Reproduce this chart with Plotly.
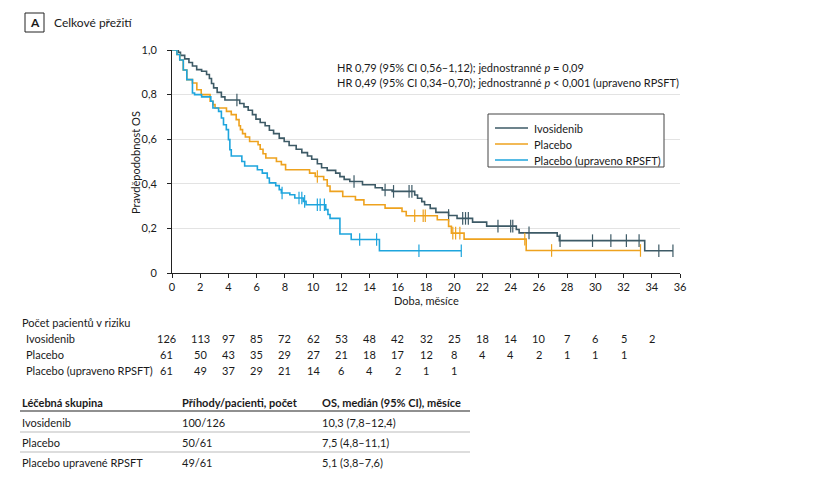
import plotly.graph_objects as go

# ---------------- data ----------------
ivo_t = [0, 0.45, 0.6, 0.9, 1.2, 1.45, 1.75, 2.1, 2.45, 2.65, 2.8, 2.95, 3.2, 3.5, 3.75,
         4.8, 5.1, 5.4, 5.7, 5.95, 6.25, 6.6, 6.9, 7.2, 7.6, 7.95, 8.3, 8.8, 9.2, 9.6,
         9.9, 10.3, 10.6, 11.0, 11.6, 11.9, 12.2, 12.6, 13.5, 14.4, 14.9, 15.6, 17.2,
         17.4, 17.7, 17.9, 18.3, 18.7, 19.6, 20.2, 21.3, 22.3, 24.4, 24.6, 27.3, 27.45,
         33.5, 35.5]
ivo_s = [1.0, 0.99, 0.976, 0.96, 0.944, 0.928, 0.912, 0.905, 0.89, 0.872, 0.85, 0.83, 0.81,
         0.79, 0.776, 0.76, 0.745, 0.73, 0.71, 0.69, 0.675, 0.66, 0.64, 0.625, 0.605, 0.59,
         0.572, 0.555, 0.54, 0.525, 0.51, 0.49, 0.472, 0.46, 0.448, 0.432, 0.42, 0.41, 0.396,
         0.382, 0.372, 0.366, 0.35, 0.335, 0.32, 0.306, 0.29, 0.272, 0.258, 0.245, 0.228,
         0.21, 0.195, 0.18, 0.165, 0.145, 0.10, 0.10]
ivo_cens_t = [4.6, 12.9, 15.1, 15.7, 16.8, 17.0, 19.6, 20.6, 20.8, 21.0, 23.1, 24.0, 24.15,
              25.3, 27.5, 29.8, 31.1, 32.2, 33.1, 34.5, 35.5]
ivo_cens_s = [0.776, 0.41, 0.372, 0.366, 0.366, 0.366, 0.258, 0.245, 0.245, 0.245, 0.21,
              0.21, 0.21, 0.18, 0.145, 0.145, 0.145, 0.145, 0.145, 0.10, 0.10]

pla_t = [0, 0.35, 0.55, 0.8, 1.05, 1.45, 1.76, 2.07, 2.7, 2.9, 3.05, 3.86, 4.2, 4.55, 4.75,
         4.85, 5.0, 5.2, 5.5, 6.1, 6.25, 6.45, 6.65, 7.4, 7.75, 8.05, 9.75, 10.15, 10.75,
         11.0, 11.2, 12.1, 13.0, 13.6, 15.1, 16.3, 16.6, 18.8, 19.6, 19.8, 20.7, 25.1, 33.2]
pla_s = [1.0, 0.98, 0.955, 0.91, 0.867, 0.852, 0.822, 0.80, 0.77, 0.755, 0.74, 0.725, 0.71,
         0.688, 0.66, 0.643, 0.625, 0.61, 0.59, 0.575, 0.555, 0.535, 0.516, 0.50, 0.486,
         0.463, 0.448, 0.433, 0.418, 0.39, 0.366, 0.343, 0.328, 0.306, 0.291, 0.276, 0.257,
         0.239, 0.209, 0.179, 0.152, 0.101, 0.101]
pla_cens_t = [10.3, 17.2, 17.8, 17.95, 19.9, 20.1, 20.4, 25.0, 26.9, 33.2]
pla_cens_s = [0.433, 0.257, 0.257, 0.257, 0.179, 0.179, 0.179, 0.152, 0.101, 0.101]

rps_t = [0, 0.35, 0.55, 0.8, 1.05, 1.45, 1.6, 2.1, 2.75, 2.9, 3.3, 3.5, 3.65, 3.85, 4.0,
         4.1, 4.2, 4.95, 5.15, 6.05, 6.4, 6.75, 6.9, 7.35, 7.6, 7.75, 8.35, 8.7, 9.3, 9.5,
         10.9, 11.05, 11.2, 11.9, 12.7, 14.7, 20.5]
rps_s = [1.0, 0.98, 0.955, 0.91, 0.867, 0.807, 0.80, 0.79, 0.77, 0.74, 0.725, 0.695, 0.665,
         0.643, 0.598, 0.553, 0.525, 0.50, 0.48, 0.463, 0.448, 0.426, 0.404, 0.392, 0.374,
         0.359, 0.351, 0.336, 0.321, 0.306, 0.284, 0.262, 0.245, 0.175, 0.15, 0.10, 0.10]
rps_cens_t = [7.8, 9.0, 9.2, 9.4, 10.3, 10.5, 10.8, 13.3, 14.5, 17.5, 20.5]
rps_cens_s = [0.359, 0.336, 0.336, 0.321, 0.306, 0.306, 0.306, 0.15, 0.15, 0.10, 0.10]

series_names = ["Ivosidenib", "Placebo", "Placebo (upraveno RPSFT)"]
series_colors = ["#3d5a66", "#eea21e", "#1ea5dd"]

risk_times = [0, 2, 4, 6, 8, 10, 12, 14, 16, 18, 20, 22, 24, 26, 28, 30, 32, 34]
risk_ivo = [126, 113, 97, 85, 72, 62, 53, 48, 42, 32, 25, 18, 14, 10, 7, 6, 5, 2]
risk_pla = [61, 50, 43, 35, 29, 27, 21, 18, 17, 12, 8, 4, 4, 2, 1, 1, 1]
risk_rps = [61, 49, 37, 29, 21, 14, 6, 4, 2, 1, 1]
risk_labels = ["Ivosidenib", "Placebo", "Placebo (upraveno RPSFT)"]

tab_header = ["Léčebná skupina", "Příhody/pacienti, počet", "OS, medián (95% CI), měsíce"]
tab_groups = ["Ivosidenib", "Placebo", "Placebo upravené RPSFT"]
tab_events = ["100/126", "50/61", "49/61"]
tab_median = ["10,3 (7,8–12,4)", "7,5 (4,8–11,1)", "5,1 (3,8–7,6)"]

xticks = list(range(0, 37, 2))
yticks = [0, 0.2, 0.4, 0.6, 0.8, 1.0]
yticktext = ["0", "0,2", "0,4", "0,6", "0,8", "1,0"]

# ---------------- layout geometry (page pixel coords) ----------------
OFF = 8  # default body margin of the html page
W, H = 819 - OFF, 488 - OFF
L, R, T, B = 172, 680, 50, 273
FONT = "Lato, 'Liberation Sans', Arial, sans-serif"
TXT = "#1a1a1a"


def px(x):
    return (x - L) / (R - L)


def py(y):
    return (B - y) / (B - T)


fig = go.Figure()

curves = [(ivo_t, ivo_s, ivo_cens_t, ivo_cens_s),
          (pla_t, pla_s, pla_cens_t, pla_cens_s),
          (rps_t, rps_s, rps_cens_t, rps_cens_s)]
for i in [0, 1, 2]:
    t, s, ct, cs = curves[i]
    fig.add_trace(go.Scatter(x=t, y=s, mode="lines", line=dict(color=series_colors[i], width=1.6, shape="hv"),
                             name=series_names[i], showlegend=False, hoverinfo="skip"))
    fig.add_trace(go.Scatter(x=ct, y=cs, mode="markers",
                             marker=dict(symbol="line-ns", size=9, line=dict(color=series_colors[i], width=1.2)),
                             showlegend=False, hoverinfo="skip"))


def note(x, y, text, xanchor="left", size=11, **kw):
    return dict(x=px(x), y=py(y), xref="paper", yref="paper", text=text, showarrow=False,
                font=dict(family=FONT, size=size, color=TXT), xanchor=xanchor, yanchor="middle", **kw)


ann = []
ann.append(note(34.5, 22, "<b>A</b>", xanchor="center", size=12))
ann.append(note(52, 22, "Celkové přežití", size=12))
ann.append(note(335, 67, "HR 0,79 (95% CI 0,56–1,12); jednostranné <i>p</i> = 0,09"))
ann.append(note(335, 82, "HR 0,49 (95% CI 0,34–0,70); jednostranné <i>p</i> < 0,001 (upraveno RPSFT)"))
ann.append(note(135, 163, "Pravděpodobnost OS", xanchor="center", textangle=-90))
ann.append(note(426, 300, "Doba, měsíce", xanchor="center"))

# legend (drawn)
shapes = []
shapes.append(dict(type="rect", xref="paper", yref="paper", x0=px(488), x1=px(664), y0=py(114), y1=py(167),
                   line=dict(color="#444", width=1), fillcolor="white"))
for k in range(3):
    yy = 128 + 16 * k
    shapes.append(dict(type="line", xref="paper", yref="paper", x0=px(495), x1=px(528), y0=py(yy), y1=py(yy),
                       line=dict(color=series_colors[k], width=1.6)))
    ann.append(note(532, yy, series_names[k]))

# risk table
ann.append(note(20, 322, "Počet pacientů v riziku"))
for r, (lab, vals) in enumerate(zip(risk_labels, [risk_ivo, risk_pla, risk_rps])):
    yy = py(338 + 16 * r)
    ann.append(dict(x=px(24), y=yy, xref="paper", yref="paper", text=lab, showarrow=False,
                    font=dict(family=FONT, size=11, color=TXT), xanchor="left", yanchor="middle"))
    for tt, v in zip(risk_times, vals):
        ann.append(dict(x=tt, y=yy, xref="x", yref="paper", text=str(v), showarrow=False,
                        font=dict(family=FONT, size=11, color=TXT), xanchor="center", yanchor="middle",
                        xshift=-6 if tt == 0 else 0))

# summary table
col_x = [20, 180, 320]
for c, h in enumerate(tab_header):
    ann.append(note(col_x[c], 402, "<b>" + h + "</b>"))
for r in range(3):
    for c, v in enumerate([tab_groups[r], tab_events[r], tab_median[r]]):
        ann.append(note(col_x[c], 422 + 20 * r, v))

shapes.append(dict(type="rect", xref="paper", yref="paper", x0=px(25), x1=px(44), y0=py(13), y1=py(32),
                   line=dict(color="#222", width=1)))
shapes.append(dict(type="line", xref="paper", yref="paper", x0=px(20), x1=px(470), y0=py(411), y1=py(411),
                   line=dict(color="#222", width=1.2)))
for yl in [432, 452]:
    shapes.append(dict(type="line", xref="paper", yref="paper", x0=px(20), x1=px(470), y0=py(yl), y1=py(yl),
                       line=dict(color="#bbbbbb", width=1)))

fig.update_layout(
    width=W, height=H,
    margin=dict(l=L - OFF, r=(819 - R), t=T - OFF, b=(488 - B)),
    paper_bgcolor="white", plot_bgcolor="white",
    font=dict(family=FONT, size=11, color=TXT),
    separators=",.",
    showlegend=False,
    annotations=ann, shapes=shapes,
    xaxis=dict(range=[0, 36], tickvals=xticks, showgrid=False, zeroline=False, showline=True,
               linecolor="#222", linewidth=1, ticks="outside", ticklen=4, tickcolor="#222",
               tickfont=dict(family=FONT, size=11, color=TXT)),
    yaxis=dict(range=[0, 1.0], tickvals=yticks, ticktext=yticktext, showgrid=True, gridcolor="#e3e3e3",
               gridwidth=1, zeroline=False, showline=True, linecolor="#222", linewidth=1,
               ticks="outside", ticklen=4, tickcolor="#222", ticklabelstandoff=8,
               tickfont=dict(family=FONT, size=11, color=TXT)),
)

fig.write_html("out.html")
